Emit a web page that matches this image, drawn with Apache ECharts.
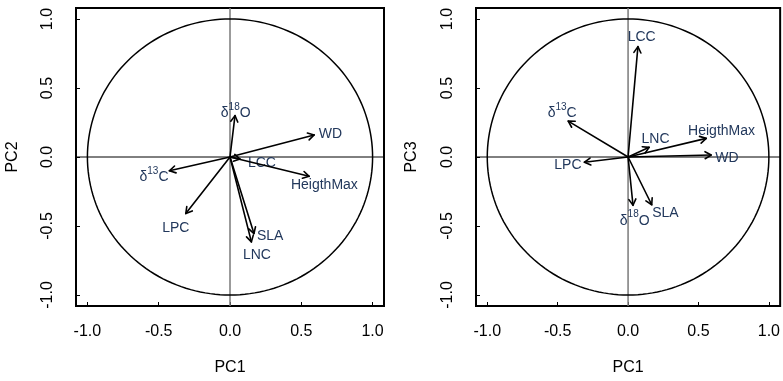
<!DOCTYPE html>
<html>
<head>
<meta charset="utf-8">
<script src="https://cdn.jsdelivr.net/npm/echarts@6/dist/echarts.min.js"></script>
<style>
  html, body { margin: 0; padding: 0; background: #fff; }
  #chart { width: 783px; height: 381px; }
</style>
</head>
<body>
<div id="chart"></div>
<script>
// Trait loadings on the first three principal components
const traits = ['d18O', 'WD', 'LCC', 'HeigthMax', 'd13C', 'LPC', 'SLA', 'LNC'];
const pc1 = [0.035, 0.59, 0.07, 0.555, -0.425, -0.31, 0.168, 0.15];
const pc2 = [0.30, 0.16, -0.015, -0.14, -0.10, -0.41, -0.555, -0.615];
const pc3 = [-0.35, 0.014, 0.80, 0.135, 0.26, -0.038, -0.346, 0.07];

// Where each trait name sits, in axis units (PC1-PC2 panel)
const labelX12 = [0.04, 0.705, 0.224, 0.662, -0.533, -0.38, 0.282, 0.189];
const labelY12 = [0.333, 0.18, -0.029, -0.189, -0.135, -0.502, -0.562, -0.694];
// ... and in the PC1-PC3 panel
const labelX13 = [0.047, 0.702, 0.097, 0.664, -0.468, -0.427, 0.265, 0.195];
const labelY13 = [-0.447, 0.005, 0.885, 0.202, 0.334, -0.045, -0.391, 0.146];

// Tick values shared by both axes of both panels
const tickValues = [-1.0, -0.5, 0.0, 0.5, 1.0];
const tickLabels = ['-1.0', '-0.5', '0.0', '0.5', '1.0'];

const axisMin = -1.08, axisMax = 1.08;
const FONT = 'Liberation Sans, Arial, sans-serif';
const LABEL_COLOR = '#22385c';

// Display strings (rich text for the isotope superscripts)
const traitText = {
  d18O: '{d|δ}{s|18}{n|O}',
  d13C: '{d|δ}{s|13}{n|C}',
};
function textFor(name) { return traitText[name] || ('{n|' + name + '}'); }

const rich = {
  n: { fontSize: 14, fontFamily: FONT, fill: LABEL_COLOR, color: LABEL_COLOR, lineHeight: 18, verticalAlign: 'bottom' },
  d: { fontSize: 14, fontFamily: FONT, fill: LABEL_COLOR, color: LABEL_COLOR, lineHeight: 18, verticalAlign: 'bottom' },
  s: { fontSize: 10, fontFamily: FONT, fill: LABEL_COLOR, color: LABEL_COLOR, lineHeight: 10, verticalAlign: 'top' }
};

function makeAxis(gridIndex, name, nameGap, isY) {
  return {
    type: 'value',
    gridIndex: gridIndex,
    min: axisMin,
    max: axisMax,
    name: name,
    nameLocation: 'middle',
    nameGap: nameGap,
    nameRotate: isY ? 90 : 0,
    nameTextStyle: { fontSize: 16, fontFamily: FONT, color: '#000' },
    axisLine: { show: true, onZero: false, lineStyle: { color: '#000', width: 2 } },
    axisTick: { show: true, inside: true, length: 4, customValues: tickValues, lineStyle: { color: '#000', width: 1 } },
    axisLabel: {
      show: true,
      customValues: tickValues,
      formatter: function (v) {
        const i = tickValues.findIndex(t => Math.abs(t - v) < 1e-9);
        return i >= 0 ? tickLabels[i] : '';
      },
      rotate: isY ? 90 : 0,
      margin: isY ? 20 : 18,
      fontSize: 16,
      fontFamily: FONT,
      color: '#000',
      showMinLabel: true,
      showMaxLabel: true
    },
    splitLine: { show: false }
  };
}

// Unit circle plus the two reference lines through the origin
function circleSeries(idx) {
  return {
    type: 'custom',
    xAxisIndex: idx,
    yAxisIndex: idx,
    clip: false,
    silent: true,
    data: [[0, 0]],
    renderItem: function (params, api) {
      const pts = [];
      for (let k = 0; k <= 360; k += 2) {
        const t = k * Math.PI / 180;
        pts.push(api.coord([Math.cos(t), Math.sin(t)]));
      }
      const vTop = api.coord([0, axisMax]), vBot = api.coord([0, axisMin]);
      const hL = api.coord([axisMin, 0]), hR = api.coord([axisMax, 0]);
      return {
        type: 'group',
        children: [
          { type: 'line', shape: { x1: vTop[0], y1: vTop[1], x2: vBot[0], y2: vBot[1] },
            style: { stroke: '#7a7a7a', lineWidth: 1.5 } },
          { type: 'line', shape: { x1: hL[0], y1: hL[1], x2: hR[0], y2: hR[1] },
            style: { stroke: '#000', lineWidth: 1 } },
          { type: 'polyline', shape: { points: pts },
            style: { stroke: '#000', lineWidth: 1.5, fill: null } }
        ]
      };
    }
  };
}

// Loading arrows with open heads and trait names
function arrowSeries(idx, xs, ys, lxs, lys) {
  const data = traits.map((t, i) => [xs[i], ys[i], lxs[i], lys[i]]);
  return {
    type: 'custom',
    xAxisIndex: idx,
    yAxisIndex: idx,
    clip: false,
    silent: true,
    encode: { x: 0, y: 1 },
    data: data,
    renderItem: function (params, api) {
      const i = params.dataIndex;
      const o = api.coord([0, 0]);
      const p = api.coord([api.value(0), api.value(1)]);
      const l = api.coord([api.value(2), api.value(3)]);
      const ang = Math.atan2(p[1] - o[1], p[0] - o[0]);
      const head = 7, spread = Math.PI / 6;
      const h1 = [p[0] - head * Math.cos(ang - spread), p[1] - head * Math.sin(ang - spread)];
      const h2 = [p[0] - head * Math.cos(ang + spread), p[1] - head * Math.sin(ang + spread)];
      const st = { stroke: '#000', lineWidth: 1.6, lineCap: 'round', lineJoin: 'round', fill: null };
      return {
        type: 'group',
        children: [
          { type: 'line', shape: { x1: o[0], y1: o[1], x2: p[0], y2: p[1] }, style: st },
          { type: 'polyline', shape: { points: [h1, p, h2] }, style: st },
          { type: 'text', x: l[0], y: l[1],
            style: { text: textFor(traits[i]), rich: rich, align: 'center', verticalAlign: 'middle',
                     fontSize: 14, fontFamily: FONT, fill: LABEL_COLOR } }
        ]
      };
    }
  };
}

const chart = echarts.init(document.getElementById('chart'), null, { renderer: 'canvas' });
chart.setOption({
  animation: false,
  backgroundColor: '#fff',
  grid: [
    { left: 76, top: 8, width: 308, height: 300, show: true, borderColor: '#000', borderWidth: 2, backgroundColor: 'transparent' },
    { left: 476, top: 8, width: 308, height: 300, show: true, borderColor: '#000', borderWidth: 2, backgroundColor: 'transparent' }
  ],
  xAxis: [makeAxis(0, 'PC1', 54, false), makeAxis(1, 'PC1', 54, false)],
  yAxis: [makeAxis(0, 'PC2', 55, true), makeAxis(1, 'PC3', 56, true)],
  series: [
    circleSeries(0),
    circleSeries(1),
    arrowSeries(0, pc1, pc2, labelX12, labelY12),
    arrowSeries(1, pc1, pc3, labelX13, labelY13)
  ]
});
</script>
</body>
</html>
